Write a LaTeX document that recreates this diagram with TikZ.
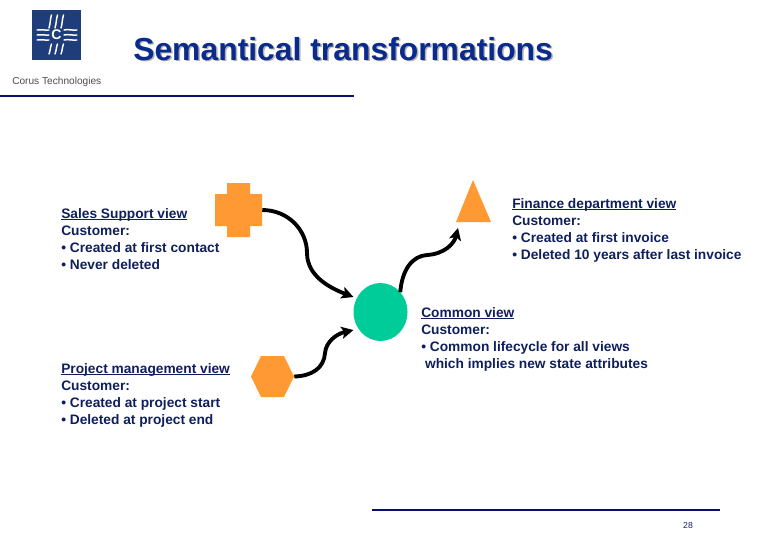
\documentclass[tikz,border=0pt]{standalone}
\usepackage{fontspec}
\setmainfont{Liberation Sans}
\usetikzlibrary{shapes.geometric,arrows.meta,calc}
\definecolor{navytext}{HTML}{0F1F5C}
\definecolor{titleblue}{HTML}{0A2A8C}
\definecolor{rulenavy}{HTML}{0A0F6E}
\definecolor{logoblue}{HTML}{1F3D7A}
\definecolor{shapeorange}{HTML}{FF9933}
\definecolor{shapegreen}{HTML}{00CC99}
\newcommand\ulview[1]{\setbox0\hbox{#1}\rlap{\rule[-1.4pt]{\wd0}{0.7pt}}\box0}
\tikzset{
  x=0.75pt,y=-0.75pt,
  viewtext/.style={font=\bfseries\fontsize{10.3pt}{12.75pt}\selectfont,text=navytext,align=left,anchor=north west,inner sep=0pt},
  conn/.style={line width=2.9pt,black,-{Stealth[length=9pt,width=9pt,inset=2pt]}},
  rulebar/.style={rulenavy,line width=1.9pt},
  logoline/.style={white,line width=1.1pt,line cap=round},
}
\begin{document}
\begin{tikzpicture}
\useasboundingbox (0,0) rectangle (780,540);
% logo
\fill[logoblue] (32,10) rectangle (81,60);
\foreach \dx in {-6,0,6}{
  \draw[logoline] ({56.5+\dx-1.5},28) .. controls ({56.5+\dx},23) and ({56.5+\dx-0.5},20) .. ({56.5+\dx+1},15);
  \draw[logoline] ({56.5+\dx-1.5},54) .. controls ({56.5+\dx},50) and ({56.5+\dx-0.5},48) .. ({56.5+\dx+1},44);
}
\foreach \dy in {-5,0,5}{
  \draw[logoline] (37,{35+\dy}) .. controls (41,{34+\dy}) and (44,{35.5+\dy}) .. (49,{35+\dy});
  \draw[logoline] (64,{35+\dy}) .. controls (68,{34+\dy}) and (72,{35.5+\dy}) .. (77,{35+\dy});
}
\node[font=\bfseries\fontsize{10.5pt}{12pt}\selectfont,text=white,inner sep=0pt] (logoc) at (56.5,35) {C};
\node[font=\fontsize{7.6pt}{8pt}\selectfont,text=black!70,inner sep=0pt,anchor=west] (logotext) at (12,82) {Corus Technologies};
% title
\node[font=\bfseries\fontsize{23.9pt}{26pt}\selectfont,text=black!30,inner sep=0pt,anchor=west] (titleshadow) at (134.5,50.5) {Semantical transformations};
\node[font=\bfseries\fontsize{23.9pt}{26pt}\selectfont,text=titleblue,inner sep=0pt,anchor=west] (title) at (133,49) {Semantical transformations};
% rules
\coordinate (rule1a) at (0,96); \coordinate (rule1b) at (354,96);
\draw[rulebar] (rule1a) -- (rule1b);
\coordinate (rule2a) at (372,510); \coordinate (rule2b) at (720,510);
\draw[rulebar] (rule2a) -- (rule2b);
\node[font=\fontsize{6.5pt}{8pt}\selectfont,text=navytext,inner sep=0pt] (pagenum) at (688,525.5) {28};
% shapes
\fill[shapeorange] (227,183) -- (250,183) -- (250,194) -- (262,194) -- (262,226) -- (250,226) -- (250,237) -- (227,237) -- (227,226) -- (215,226) -- (215,194) -- (227,194) -- cycle;
\node[inner sep=0pt,minimum width=35.25pt,minimum height=40.5pt] (cross) at (238.5,210) {};
\fill[shapeorange] (473,180) -- (491,222) -- (456,222) -- cycle;
\node[inner sep=0pt,minimum width=26pt,minimum height=31.5pt] (tri) at (473,201) {};
\fill[shapeorange] (251,376.5) -- (261,356) -- (284,356) -- (294,376.5) -- (284,397) -- (261,397) -- cycle;
\node[inner sep=0pt,minimum width=32.25pt,minimum height=30.75pt] (hex) at (272.5,376.5) {};
\node[ellipse,fill=shapegreen,inner sep=0pt,outer sep=0pt,minimum width=40.5pt,minimum height=43.5pt] (hub) at (380.5,312) {};
% connectors
\coordinate (m1) at (307,253);
\coordinate (m2) at (325,353);
\coordinate (m3) at (427,255);
\coordinate (tipin) at (458,228);
\coordinate (hubinA) at (353.5,297);
\coordinate (hubinB) at (353.5,330);
\draw[conn] (cross.east) .. controls (288,210) and (307,230) .. (m1) .. controls (307,276) and (330,288) .. (hubinA);
\draw[conn] (hex.east) .. controls (312,376) and (324,368) .. (m2) .. controls (326,342) and (336,334) .. (hubinB);
\draw[conn] (hub.45) .. controls (402,270) and (412,256) .. (m3) .. controls (444,254) and (454,244) .. (tipin);
% text
\node[viewtext] (sales) at (61,208) {\ulview{Sales Support view}\\Customer:\\• Created at first contact\\• Never deleted};
\node[viewtext] (proj) at (61,363) {\ulview{Project management view}\\Customer:\\• Created at project start\\• Deleted at project end};
\node[viewtext] (fin) at (512,198) {\ulview{Finance department view}\\Customer:\\• Created at first invoice\\• Deleted 10 years after last invoice};
\node[viewtext] (common) at (421,307) {\ulview{Common view}\\Customer:\\• Common lifecycle for all views\\\ which implies new state attributes};
\end{tikzpicture}
\end{document}
